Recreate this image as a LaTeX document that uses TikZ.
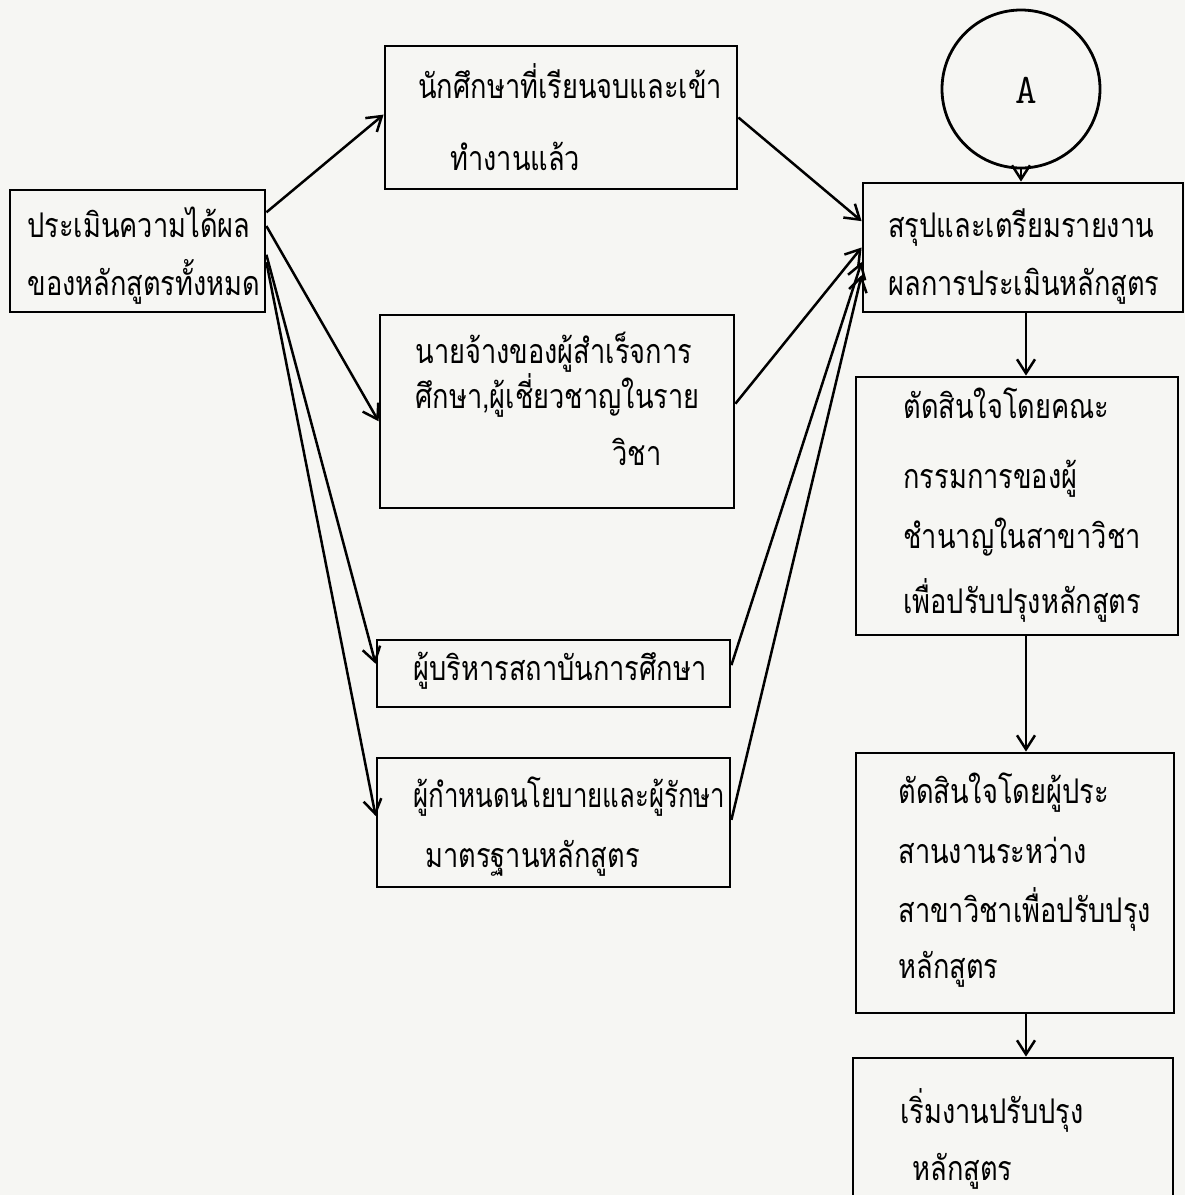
\documentclass[tikz,border=0pt]{standalone}
\usepackage{fontspec}
\newfontfamily\thai[Script=Thai,FakeStretch=0.8]{Loma}
\newfontfamily\thainarrow[Script=Thai,FakeStretch=0.76]{Loma}
\usetikzlibrary{arrows.meta,fit,calc}
\begin{document}
\begin{tikzpicture}[x=0.5pt,y=-0.5pt,
  box/.style={draw, line width=1.4pt, inner sep=0pt},
  txt/.style={anchor=base west, inner sep=0pt, font=\thai\fontsize{17}{17}\selectfont},
  arr/.style={line width=1.25pt, -{Straight Barb[length=7pt,width=9pt,line width=1.25pt]}}]
\useasboundingbox[fill={rgb,255:red,246;green,246;blue,243}] (0,0) rectangle (1185,1195);

% boxes
\node[box, fit={(10,190) (265,312)}] (L) {};
\node[box, fit={(385,46) (737,189)}] (b1) {};
\node[box, fit={(380,315) (734,508)}] (b2) {};
\node[box, fit={(377,640) (730,707)}] (b3) {};
\node[box, fit={(377,758) (730,887)}] (b4) {};
\node[box, circle, minimum size=79pt] (A) at (1021,89) {};
\node[inner sep=0pt, anchor=base] (Alab) at (1026,103) {\ttfamily\fontsize{21}{21}\selectfont A};
\node[box, fit={(863,183) (1183,312)}] (r1) {};
\node[box, fit={(856,377) (1178,635)}] (r2) {};
\node[box, fit={(856,753) (1174,1013)}] (r3) {};
\node[box, fit={(853,1058) (1173,1205)}] (r4) {};

% texts
\node[txt] (tL1) at (27,237) {ประเมินความได้ผล};
\node[txt] (tL2) at (27,295) {ของหลักสูตรทั้งหมด};
\node[txt] (tb11) at (418,98) {นักศึกษาที่เรียนจบและเข้า};
\node[txt] (tb12) at (450,170) {ทำงานแล้ว};
\node[txt] (tb21) at (415,363) {นายจ้างของผู้สำเร็จการ};
\node[txt] (tb22) at (415,408) {ศึกษา,ผู้เชี่ยวชาญในราย};
\node[txt] (tb23) at (612,465) {วิชา};
\node[txt] (tb31) at (413,680) {ผู้บริหารสถาบันการศึกษา};
\node[txt, font=\thainarrow\fontsize{17}{17}\selectfont] (tb41) at (413,807) {ผู้กำหนดนโยบายและผู้รักษา};
\node[txt] (tb42) at (425,867) {มาตรฐานหลักสูตร};
\node[txt] (tr11) at (888,237) {สรุปและเตรียมรายงาน};
\node[txt] (tr12) at (888,295) {ผลการประเมินหลักสูตร};
\node[txt] (tr21) at (903,418) {ตัดสินใจโดยคณะ};
\node[txt] (tr22) at (903,488) {กรรมการของผู้};
\node[txt] (tr23) at (903,548) {ชำนาญในสาขาวิชา};
\node[txt] (tr24) at (903,613) {เพื่อปรับปรุงหลักสูตร};
\node[txt] (tr31) at (898,803) {ตัดสินใจโดยผู้ประ};
\node[txt] (tr32) at (898,863) {สานงานระหว่าง};
\node[txt] (tr33) at (898,922) {สาขาวิชาเพื่อปรับปรุง};
\node[txt] (tr34) at (898,978) {หลักสูตร};
\node[txt] (tr41) at (900,1123) {เริ่มงานปรับปรุง};
\node[txt] (tr42) at (912,1180) {หลักสูตร};

% fan-out arrows
\draw[arr] ($(L.north east)!0.19!(L.south east)$) -- ($(b1.north west)!0.48!(b1.south west)$);
\draw[arr] ($(L.north east)!0.30!(L.south east)$) -- ($(b2.north west)!0.55!(b2.south west)$);
\draw[arr] ($(L.north east)!0.53!(L.south east)$) -- ($(b3.north west)!0.36!(b3.south west)$);
\draw[arr] ($(L.north east)!0.59!(L.south east)$) -- ($(b4.north west)!0.45!(b4.south west)$);

% fan-in arrows
\draw[arr] (b1.east) -- ($(r1.north west)!0.30!(r1.south west)$);
\draw[arr] ($(b2.north east)!0.46!(b2.south east)$) -- ($(r1.north west)!0.50!(r1.south west)$);
\draw[arr] ($(b3.north east)!0.38!(b3.south east)$) -- ($(r1.north west)!0.61!(r1.south west)$);
\draw[arr] ($(b4.north east)!0.48!(b4.south east)$) -- ($(r1.north west)!0.71!(r1.south west)$);

% vertical chain
\coordinate (vx) at (1026,0);
\draw[arr] (A.south) -- (A.south |- r1.north);
\draw[arr] (r1.south -| vx) -- (r2.north -| vx);
\draw[arr] (r2.south -| vx) -- (r3.north -| vx);
\draw[arr] (r3.south -| vx) -- (r4.north -| vx);
\end{tikzpicture}
\end{document}
